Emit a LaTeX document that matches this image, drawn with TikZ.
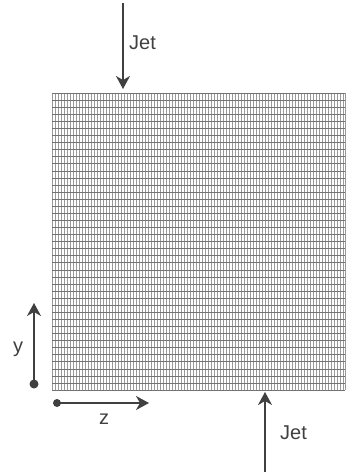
\documentclass[tikz,border=0pt]{standalone}
\usepackage{fontspec}
\setmainfont{Liberation Sans}
\usetikzlibrary{arrows.meta}
\begin{document}
\begin{tikzpicture}[x=1pt,y=-1pt,
  arr/.style={draw=black!75,line width=1.4pt,-{Stealth[length=13pt,width=14pt,inset=4pt]}},
  lbl/.style={font=\fontsize{20}{20}\selectfont,text=black!75,inner sep=0pt},
  dot/.style={circle,fill=black!75,inner sep=0pt,minimum size=9pt}]
\useasboundingbox (0,0) rectangle (354,476);
\fill[white] (0,0) rectangle (354,476);
% grid
\node[draw=none,inner sep=0pt,minimum width=293pt,minimum height=297pt,anchor=north west] (mesh) at (52,93) {};
\foreach \i in {0,...,97}{
  \draw[black!40,line width=0.45pt] (52+\i*3,93) -- (52+\i*3,390);
}
\draw[black!40,line width=0.45pt] (345,93) -- (345,390);
\foreach \j in {0,...,42}{
  \draw[black!55,line width=0.45pt] (52,93+\j*7.07) -- (345,93+\j*7.07);
}
% jets
\coordinate (j1s) at (123,3);
\coordinate (j1e) at (123,89);
\draw[arr] (j1s) -- (j1e);
\node[lbl,anchor=west] (jet1) at (129,43) {Jet};
\coordinate (j2s) at (265,472);
\coordinate (j2e) at (265,392);
\draw[arr] (j2s) -- (j2e);
\node[lbl,anchor=west] (jet2) at (280,433) {Jet};
% axes
\node[dot] (oy) at (34,384) {};
\coordinate (ye) at (34,303);
\draw[arr] (oy.center) -- (ye);
\node[lbl] (ylab) at (18,349) {y};
\node[dot,minimum size=8pt] (oz) at (57,403) {};
\coordinate (ze) at (149,403);
\draw[arr] (oz.center) -- (ze);
\node[lbl] (zlab) at (104,419) {z};
\end{tikzpicture}
\end{document}
